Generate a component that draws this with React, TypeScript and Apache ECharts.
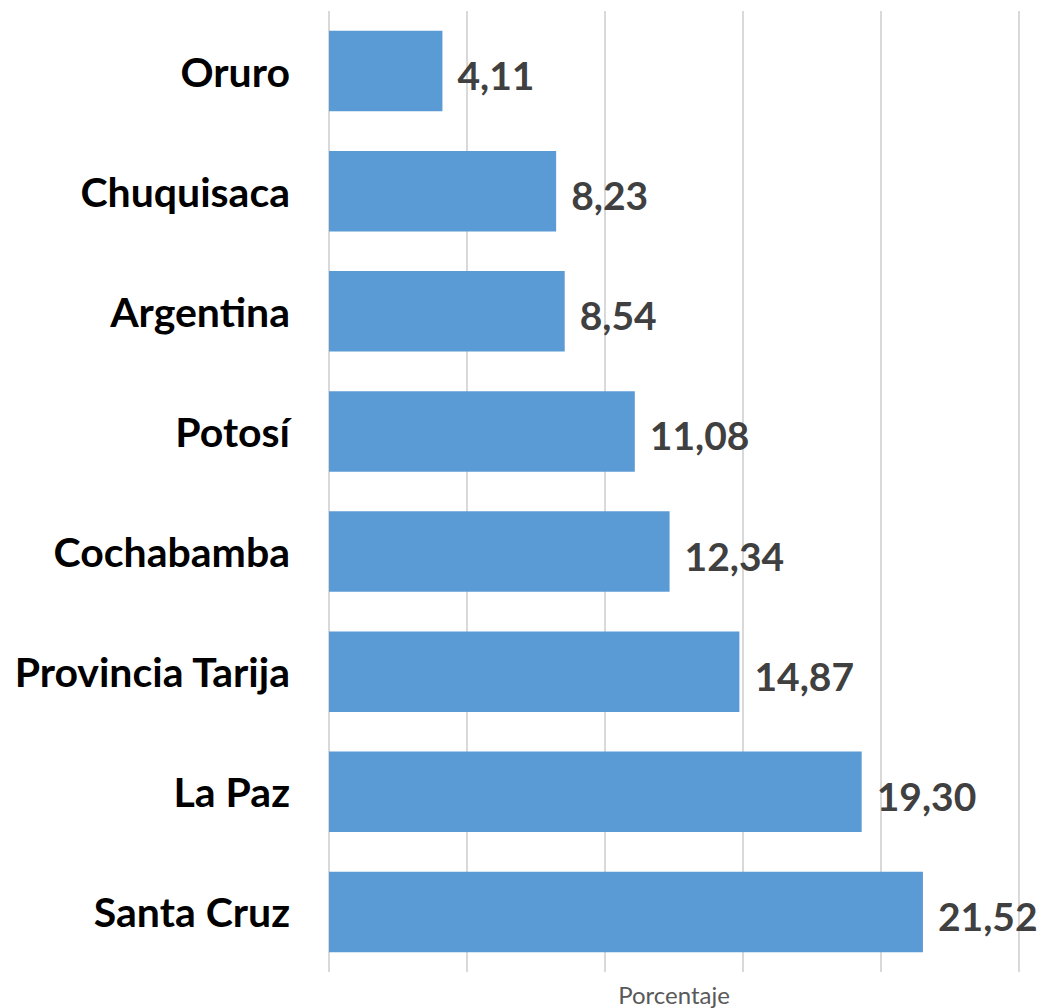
import React, { useEffect, useRef } from "react";
import * as echarts from "echarts";

const categories = [
  "Oruro",
  "Chuquisaca",
  "Argentina",
  "Potosí",
  "Cochabamba",
  "Provincia Tarija",
  "La Paz",
  "Santa Cruz",
];
const values = [4.11, 8.23, 8.54, 11.08, 12.34, 14.87, 19.3, 21.52];
const axisName = "Porcentaje";

export default function App() {
  const ref = useRef<HTMLDivElement>(null);
  useEffect(() => {
    document.body.style.margin = "0";
    const chart = echarts.init(ref.current!, undefined, { renderer: "svg" });
    chart.setOption({
      animation: false,
      backgroundColor: "#ffffff",
      grid: { left: 329, right: 22, top: 11, bottom: 36, outerBoundsMode: "none", containLabel: false },
      xAxis: {
        type: "value",
        min: 0,
        max: 25,
        interval: 5,
        name: axisName,
        nameLocation: "middle",
        nameGap: 10,
        nameTextStyle: { fontFamily: "Lato", fontSize: 24, color: "#595959" },
        axisLabel: { show: false },
        axisLine: { show: false },
        axisTick: { show: false },
        splitLine: { show: true, lineStyle: { color: "#d9d9d9", width: 2 } },
      },
      yAxis: {
        type: "category",
        inverse: true,
        data: categories,
        axisLine: { show: false },
        axisTick: { show: false },
        axisLabel: {
          margin: 39,
          fontFamily: "Lato",
          fontWeight: "bold",
          fontSize: 41,
          color: "#000000",
        },
      },
      series: [
        {
          type: "bar",
          data: values,
          barCategoryGap: "33%",
          itemStyle: { color: "#5b9bd5" },
          label: {
            show: true,
            position: "right",
            distance: 15,
            offset: [0, 4],
            fontFamily: "Lato",
            fontWeight: "bold",
            fontSize: 39,
            color: "#404040",
            formatter: (p: any) => p.value.toFixed(2).replace(".", ","),
          },
        },
      ],
    });
    return () => chart.dispose();
  }, []);
  return <div ref={ref} style={{ width: 1041, height: 1008 }} />;
}
